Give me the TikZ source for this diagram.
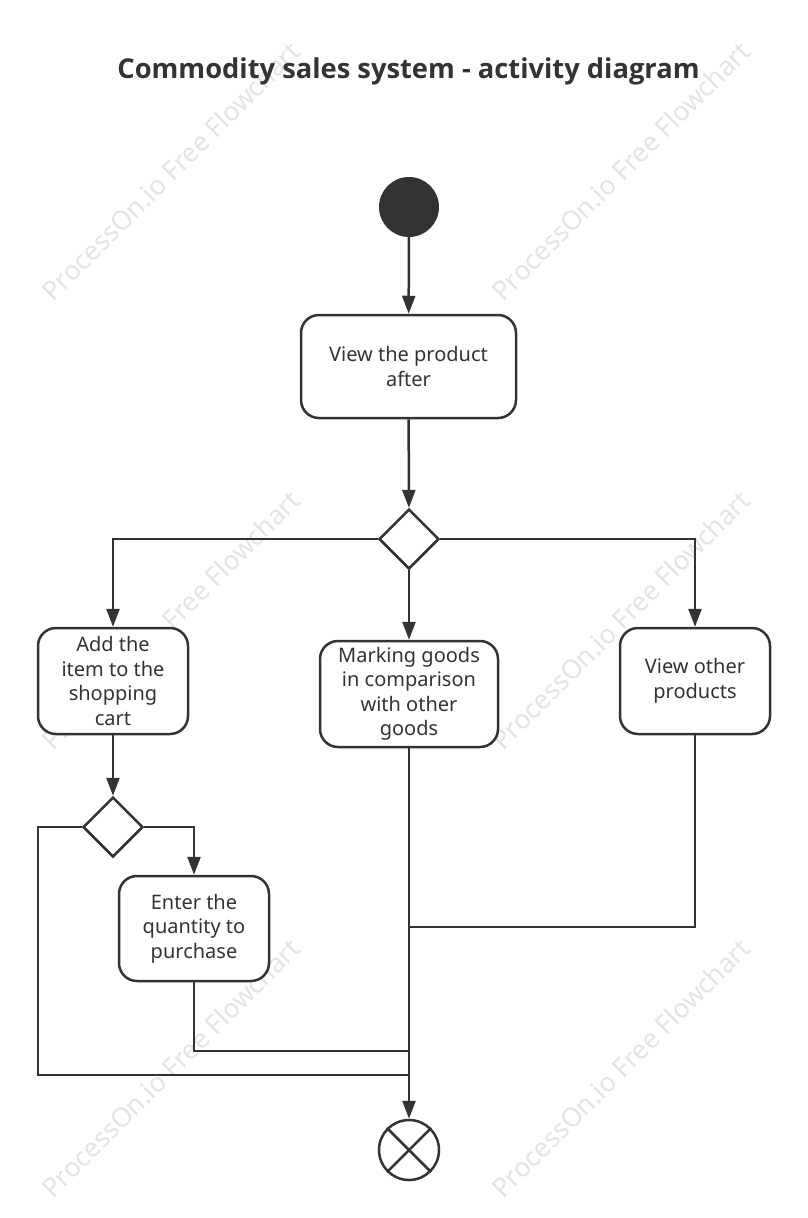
\documentclass[tikz,border=0pt]{standalone}
\usepackage{fontspec}
\setmainfont{Noto Sans}
\newfontfamily\titlefont{Open Sans}
\usetikzlibrary{shapes.geometric,arrows.meta}
\definecolor{ink}{HTML}{333333}
\definecolor{wm}{HTML}{E4E4E4}
\tikzset{
  actbox/.style={draw=ink, line width=2.5pt, rounded corners=18pt, fill=white, align=center,
    text=ink, font=\fontsize{20}{24.5}\selectfont, inner sep=0pt},
  decis/.style={draw=ink, line width=2.5pt, diamond, aspect=1, minimum width=60pt, minimum height=60pt, inner sep=0pt, fill=white},
  flow/.style={draw=ink, line width=2.5pt},
  arr/.style={flow, -{Triangle[length=18pt,width=13pt]}},
  wmark/.style={rotate=45, text=wm, font=\fontsize{26.5}{26.5}\selectfont}
}
\begin{document}
\begin{tikzpicture}[x=1pt,y=-1pt]
\useasboundingbox (0,0) rectangle (807,1218);
\fill[white] (0,0) rectangle (807,1218);
% watermarks
\foreach \cx in {171,621}{
  \foreach \cy in {171,620,1068}{
    \node[wmark] at (\cx,\cy) {ProcessOn.io Free Flowchart};
  }
}
% title
\node[text=ink, font=\titlefont\bfseries\fontsize{27.3}{30}\selectfont] (title) at (408.5,71) {Commodity sales system - activity diagram};
% nodes
\node[circle, fill=ink, minimum size=60pt, inner sep=0pt] (start) at (409,207) {};
\node[actbox, minimum width=215pt, minimum height=103pt] (b1) at (408.5,366.5) {View the product\\after};
\node[decis] (d1) at (409,539) {};
\node[actbox, minimum width=150pt, minimum height=106pt] (b2) at (113,681) {Add the\\item to the\\shopping\\cart};
\node[actbox, minimum width=178pt, minimum height=106pt] (b3) at (409,694) {Marking goods\\in comparison\\with other\\goods};
\node[actbox, minimum width=150pt, minimum height=106pt] (b4) at (695,681) {View other\\products};
\node[decis] (d2) at (113,827) {};
\node[actbox, minimum width=150pt, minimum height=105pt] (b5) at (194,928.5) {Enter the\\quantity to\\purchase};
\node[circle, draw=ink, line width=2.5pt, fill=white, minimum size=60pt, inner sep=0pt] (end) at (409,1150) {};
\draw[flow] (end.north east) -- (end.south west);
\draw[flow] (end.north west) -- (end.south east);
% junction coordinates
\coordinate (c1) at (38,1075);
\coordinate (j1) at (409,1075);
\coordinate (j2) at (409,1051);
\coordinate (j3) at (409,927);
% connectors
\draw[arr] (start) -- (b1);
\draw[arr] (b1) -- (d1);
\draw[arr] (d1.west) -| (b2.north);
\draw[arr] (d1) -- (b3);
\draw[arr] (d1.east) -| (b4.north);
\draw[arr] (b2) -- (d2);
\draw[arr] (d2.east) -| (b5.north);
\draw[flow] (d2.west) -| (c1) -- (j1);
\draw[flow] (b5.south) |- (j2);
\draw[flow] (b4.south) |- (j3);
\draw[arr] (b3) -- (end);
\end{tikzpicture}
\end{document}
